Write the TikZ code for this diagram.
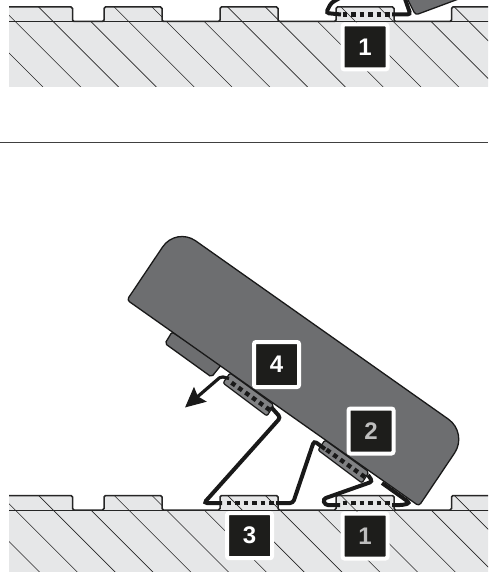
\documentclass[tikz,border=0pt]{standalone}
\usepackage{fontspec}
\setmainfont{Liberation Sans}
\usepackage{xcolor}
\usetikzlibrary{arrows.meta}
\definecolor{solgris}{RGB}{230,231,232}
\definecolor{boitiergris}{RGB}{109,110,112}
\definecolor{bandegris}{RGB}{128,129,131}
\definecolor{badgenoir}{RGB}{29,29,27}
\definecolor{chiffregris}{RGB}{190,190,190}
\tikzset{
    profil/.style={black!85, line width=1.5pt, rounded corners=1.5pt},
    hachure/.style={black!85, line width=0.6pt},
    ressort/.style={black!90, line width=4pt, rounded corners=3pt},
    points/.style={black!90, line width=4.4pt, dash pattern=on 4.6pt off 3.9pt},
    boitier/.style={fill=boitiergris, draw=black!90, line width=1.3pt},
    badge/.style={rectangle, rounded corners=2pt, fill=badgenoir, draw=white, line width=4pt, minimum size=45pt, inner sep=0pt, text=white, font=\fontsize{24}{24}\selectfont\bfseries},
}
\begin{document}
\begin{tikzpicture}[x=1pt, y=-1pt]
    \useasboundingbox (0,0) rectangle (488,572);
    \clip (0,0) rectangle (488,572);

    % sol
    \foreach \dy in {0,488.5} {
        \begin{scope}[shift={(0,\dy)}]
            \path[fill=solgris] (9,7) -- (72.5,7) -- (72.5,21.5) -- (104,21.5) -- (104,7) -- (162,7) -- (162,21.5) -- (220,21.5) -- (220,7) -- (278,7) -- (278,21.5) -- (336,21.5) -- (336,7) -- (394,7) -- (394,21.5) -- (451.5,21.5) -- (451.5,7) -- (490,7) -- (490,87) -- (9,87) -- cycle;
            \begin{scope}
                \clip (9,7) -- (72.5,7) -- (72.5,21.5) -- (104,21.5) -- (104,7) -- (162,7) -- (162,21.5) -- (220,21.5) -- (220,7) -- (278,7) -- (278,21.5) -- (336,21.5) -- (336,7) -- (394,7) -- (394,21.5) -- (451.5,21.5) -- (451.5,7) -- (490,7) -- (490,87) -- (9,87) -- cycle;
                \foreach \k in {-1,...,14}
                    \draw[hachure] ({43+37.8*\k-85},2) -- ({43+37.8*\k},87);
            \end{scope}
            \draw[hachure, line width=0.9pt] (9,21.5) -- (490,21.5);
            \draw[profil] (9,7) -- (72.5,7) -- (72.5,21.5) -- (104,21.5) -- (104,7) -- (162,7) -- (162,21.5) -- (220,21.5) -- (220,7) -- (278,7) -- (278,21.5) -- (336,21.5) -- (336,7) -- (394,7) -- (394,21.5) -- (451.5,21.5) -- (451.5,7) -- (490,7);
            \draw[points] (342.5,14.5) -- (389.5,14.5);
        \end{scope}
    }
    \draw[points] (226.5,503) -- (273.5,503);

    % filet
    \draw[black!75, line width=1pt] (0,142.5) -- (488,142.5);

    % haut
    \draw[ressort] (341,14.5) -- (326,13) -- (331,3) -- (345,-5);
    \draw[ressort] (392,14.5) -- (410.5,14.5) -- (404,-4);
    \draw[boitier, rounded corners=3pt] (405,-6) -- (415.5,15) -- (472,-6);

    % bas
    \draw[boitier, rounded corners=2pt] (172,332) -- (165,343.5) -- (211.5,377) -- (222,364) -- cycle;
    \foreach \dx/\dz in {0/0,95/67} {
        \begin{scope}[shift={(\dx,\dz)}]
            \draw[fill=bandegris, draw=black!90, line width=1.2pt, rounded corners=2pt] (223,383) -- (230,373) -- (274,405) -- (267,416) -- cycle;
            \draw[points] (231.5,382.7) -- (270.2,410.3);
        \end{scope}
    }
    \draw[boitier] (151.5,263.5) [rounded corners=24pt] -- (176,227) -- (468,433) [rounded corners=3pt] -- (419,506) -- (127,300) -- cycle;

    \draw[ressort] (271,407) -- (280.5,417.5) -- (204,503) -- (222,503);
    \draw[ressort] (276,503) -- (293,503) -- (314,441) -- (325,449);
    \draw[ressort] (368,475) -- (372.5,481.5) -- (323,499) -- (325,505) -- (340,505);
    \draw[ressort] (382,483) -- (410,503) -- (403,505) -- (392,505);
    \draw[black!90, line width=3.2pt, rounded corners=2pt, -{Stealth[length=20pt,width=19pt,inset=3pt]}] (229,378.5) -- (221,376.5) -- (185,407.5);

    % reperes
    \node[badge] (un) at (365,47) {1};
    \node[badge] (trois) at (249.5,535.7) {3};
    \node[badge, text=chiffregris] (unbas) at (365,536) {1};
    \node[badge, text=chiffregris] (deux) at (371,431) {2};
    \node[badge] (quatre) at (276.5,364.5) {4};
\end{tikzpicture}
\end{document}
